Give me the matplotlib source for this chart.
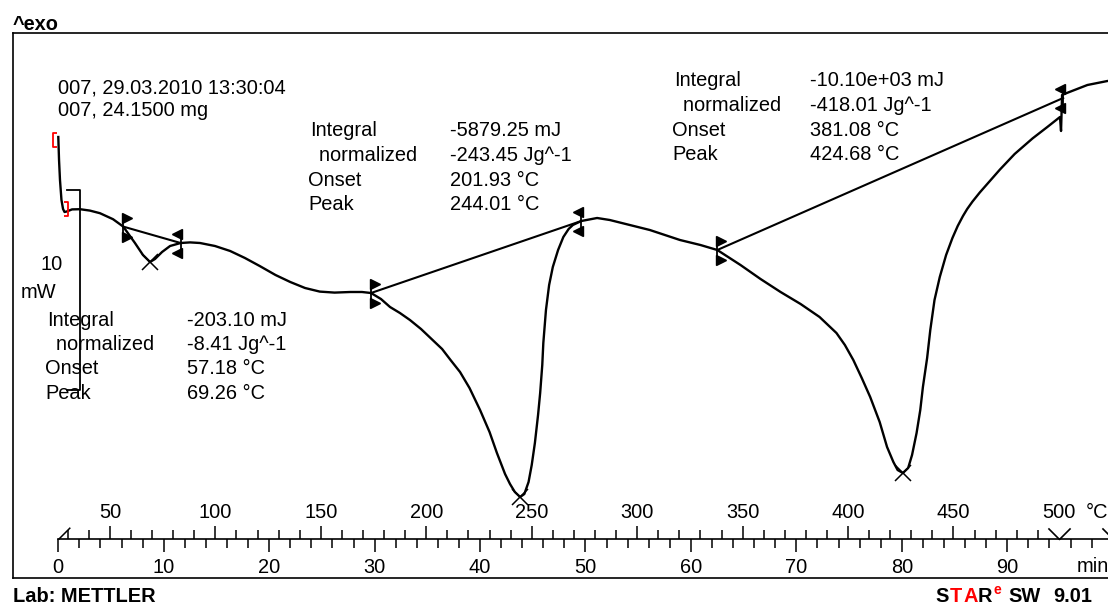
import matplotlib
matplotlib.use("Agg")
import matplotlib.pyplot as plt
import matplotlib.transforms as mtransforms
from matplotlib.path import Path
from matplotlib.ticker import FixedLocator

plt.rcParams["font.family"] = ["Liberation Sans", "DejaVu Sans"]

# DSC run 007 : time (min) vs heat flow (mW), ^exo up
time_min = [0.0, 0.07, 0.16, 0.30, 0.45, 0.59, 0.83, 1.3, 2.06, 3.0, 3.95, 5.19, 6.16,
            7.27, 8.03, 8.7, 9.17, 9.84, 10.6, 11.6,
            12.5, 13.44, 14.86, 16.3, 17.7, 19.1, 20.6, 22.0, 23.4, 24.8, 26.2, 27.7, 28.8, 29.66,
            30.6, 31.46, 32.4, 33.35, 34.4, 35.5, 36.4, 37.2, 38.1, 39.0, 40.0, 40.9, 41.6,
            42.37, 42.84, 43.3, 43.8,
            44.2, 44.6, 44.9, 45.2, 45.5, 45.7, 45.9, 46.0, 46.25, 46.55, 46.9, 47.4, 47.9,
            48.4, 48.8, 49.6,
            51.1, 52.3, 54.2, 56.1, 58.96, 60.9, 62.5,
            64.7, 66.6, 68.5, 70.4, 72.2, 73.8, 74.6, 75.4, 76.2, 77.0, 77.9, 78.6, 79.2,
            79.6, 80.1,
            80.6, 80.97, 81.4, 81.75, 82.0, 82.4, 82.7, 83.1, 83.6, 84.2, 84.8, 85.3, 85.8,
            86.2, 86.7, 87.4, 88.1, 88.7, 89.3, 90.7, 92.4, 93.8, 95.0,
            95.1, 95.2, 95.65, 97.6, 99.5, 100.5]
heat_flow = [5.65, 4.5, 3.5, 2.5, 2.05, 1.9, 1.93, 2.03, 2.04, 1.97, 1.84, 1.54, 1.17,
             0.35, -0.25, -0.6, -0.45, -0.1, 0.2, 0.35,
             0.38, 0.35, 0.2, -0.05, -0.4, -0.8, -1.25, -1.6, -1.9, -2.08, -2.13, -2.1, -2.1, -2.15,
             -2.45, -2.85, -3.15, -3.5, -3.95, -4.5, -4.95, -5.5, -6.1, -6.9, -8.0, -9.1, -10.15,
             -11.2, -11.7, -12.1, -12.35,
             -12.2, -11.6, -10.75, -9.65, -8.25, -7.15, -5.75, -4.65, -3.0, -1.75, -0.85, 0.0, 0.65,
             1.05, 1.25, 1.45,
             1.6, 1.5, 1.25, 1.0, 0.5, 0.25, 0.0,
             -0.75, -1.45, -2.1, -2.7, -3.35, -4.15, -4.75, -5.5, -6.4, -7.35, -8.6, -9.85, -10.6,
             -11.0, -11.15,
             -10.9, -10.25, -9.15, -8.0, -6.85, -5.4, -4.0, -2.5, -1.35, -0.25, 0.6, 1.2, 1.7,
             2.05, 2.42, 2.88, 3.3, 3.66, 4.02, 4.8, 5.58, 6.15, 6.65,
             5.95, 7.75, 7.85, 8.25, 8.45, 8.5]

# integration limits and peaks
lim_left_t = [6.16, 29.66, 62.5]
lim_left_y = [1.17, -2.15, 0.0]
lim_right_t = [11.6, 49.6, 95.3]
lim_right_y = [0.35, 1.45, 7.6]
peak_t = [8.7, 43.8, 80.1]
peak_y = [-0.6, -12.35, -11.15]

# evaluation range brackets (red)
range_t = [-0.36, 0.73]
range_y = [5.48, 2.03]

integral_txt = ["-203.10 mJ", "-5879.25 mJ", "-10.10e+03 mJ"]
normalized_txt = ["-8.41 Jg^-1", "-243.45 Jg^-1", "-418.01 Jg^-1"]
onset_txt = ["57.18 °C", "201.93 °C", "381.08 °C"]
peakT_txt = ["69.26 °C", "244.01 °C", "424.68 °C"]

# temperature program: T = T0 + rate * t
T0, rate = 25.5, 5.0
time_major = list(range(0, 91, 10))
time_minor = list(range(0, 100, 2))
temp_major = list(range(50, 451, 50))
temp_minor = list(range(30, 491, 10))
seg_end_min = [(500 - T0) / rate, 100.0]

# ---- layout (pixels of a 1108x608 image) ----
W, H = 1108, 608
FL, FT, FR, FB = 13, 33, 1120, 578
X0, PX_MIN = 58.3, 10.544
Y0, PX_MW = 250, 20.0
AXIS_PY = 539
FS = 14.4


def fx(x):
    return x / W


def fy(y):
    return 1 - y / H


fig = plt.figure(figsize=(W / 100, H / 100), dpi=100)
ax = fig.add_axes([fx(FL), fy(FB), fx(FR) - fx(FL), fy(FT) - fy(FB)])
ax.set_xlim((FL - X0) / PX_MIN, (FR - X0) / PX_MIN)
ax.set_ylim((Y0 - FB) / PX_MW, (Y0 - FT) / PX_MW)
ax.set_xticks([])
ax.set_yticks([])
for sp in ax.spines.values():
    sp.set_linewidth(1.2)

# curve and baselines
ax.plot(time_min, heat_flow, color="black", lw=1.7, solid_joinstyle="round")
for i in range(3):
    ax.plot([lim_left_t[i], lim_right_t[i]], [lim_left_y[i], lim_right_y[i]],
            color="black", lw=1.5)
ax.plot(peak_t, peak_y, "x", color="black", ms=11, mew=1.1)

# limit markers
def shifted(dx, dy):
    return mtransforms.offset_copy(ax.transData, fig, x=dx, y=dy, units="dots")

for t, y in zip(lim_left_t, lim_left_y):
    ax.plot([t], [y], marker="|", ms=18, mew=1.3, color="black")
    ax.plot([t], [y], marker=">", ms=6.5, color="black", ls="", transform=shifted(3.5, 9))
    ax.plot([t], [y], marker=">", ms=6.5, color="black", ls="", transform=shifted(3.5, -10))
for t, y in zip(lim_right_t, lim_right_y):
    ax.plot([t], [y], marker="|", ms=18, mew=1.3, color="black")
    ax.plot([t], [y], marker="<", ms=6.5, color="black", ls="", transform=shifted(-3.5, 9))
    ax.plot([t], [y], marker="<", ms=6.5, color="black", ls="", transform=shifted(-3.5, -10))

open_br = Path([(0.3, 1), (-0.3, 1), (-0.3, -1), (0.3, -1)])
close_br = Path([(-0.3, 1), (0.3, 1), (0.3, -1), (-0.3, -1)])
ax.plot(range_t[:1], range_y[:1], marker=open_br, ms=10, mfc="none", mec="red", mew=1.3)
ax.plot(range_t[1:], range_y[1:], marker=close_br, ms=10, mfc="none", mec="red", mew=1.3)

# scale bar 10 mW
bar_t = (80 - X0) / PX_MIN
bar_top = (Y0 - 190) / PX_MW
ax.plot([bar_t - 1.25, bar_t, bar_t, bar_t - 1.25], [bar_top, bar_top, bar_top - 10, bar_top - 10],
        color="black", lw=1.3)
fig.text(fx(40), fy(264), "10", fontsize=FS, va="center")
fig.text(fx(21), fy(292), "mW", fontsize=FS, va="center")

# time / temperature scales
axis_frac = (FB - AXIS_PY) / (FB - FT)
sec_t = ax.secondary_xaxis(axis_frac)
sec_t.xaxis.set_major_locator(FixedLocator(time_major))
sec_t.xaxis.set_minor_locator(FixedLocator(time_minor))
sec_t.tick_params(which="major", length=9.4, width=1.1, labelsize=FS, pad=4)
sec_t.tick_params(which="minor", length=6.5, width=1.1)
sec_t.spines["bottom"].set_bounds(0, 101)
sec_t.spines["bottom"].set_linewidth(1.2)

sec_T = ax.secondary_xaxis(axis_frac, functions=(lambda t: T0 + rate * t,
                                                  lambda T: (T - T0) / rate))
sec_T.set_alignment("top")
sec_T.spines["top"].set_visible(False)
sec_T.xaxis.set_major_locator(FixedLocator(temp_major))
sec_T.xaxis.set_minor_locator(FixedLocator(temp_minor))
sec_T.tick_params(which="major", length=9.4, width=1.1, labelsize=FS, pad=3)
sec_T.tick_params(which="minor", length=6.5, width=1.1)

axis_tr = mtransforms.blended_transform_factory(ax.transData, ax.transAxes)
vee = Path([(-1, 1), (0, 0), (1, 1)])
ax.plot(seg_end_min, [axis_frac] * 2, marker=vee, ms=16, mfc="none", mec="black",
        mew=1.2, ls="", transform=axis_tr, clip_on=False)
start_tick = Path([(0, 0), (1, 1)])
ax.plot([0], [axis_frac], marker=start_tick, ms=17, mfc="none", mec="black", mew=1.1,
        transform=axis_tr)
fig.text(fx(X0 + seg_end_min[0] * PX_MIN), fy(512), "500", fontsize=FS, ha="center", va="center")
fig.text(fx(1086), fy(512), "°C", fontsize=FS, va="center")
fig.text(fx(1077), fy(566), "min", fontsize=FS, va="center")

# header texts
fig.text(fx(13), fy(24), "^exo", fontsize=FS, fontweight="bold", va="center")
fig.text(fx(58), fy(88), "007, 29.03.2010 13:30:04", fontsize=FS, va="center")
fig.text(fx(58), fy(111), "007, 24.1500 mg", fontsize=FS, va="center")

# result tables
blocks = [(45, 187, 320), (308, 450, 131), (672, 810, 81)]
for i, (xl, xv, ytop) in enumerate(blocks):
    rows = [("Integral", integral_txt[i], 2), ("  normalized", normalized_txt[i], 0),
            ("Onset", onset_txt[i], 0), ("Peak", peakT_txt[i], 0)]
    for k, (lab, val, dx) in enumerate(rows):
        yy = ytop + k * 24.5
        fig.text(fx(xl + dx), fy(yy), lab, fontsize=FS, va="center")
        fig.text(fx(xv), fy(yy), val, fontsize=FS, va="center")

# footer
fig.text(fx(13), fy(597), "Lab: METTLER", fontsize=FS, fontweight="bold", va="center")
logo = [("S", 935, "black"), ("T", 950, "red"), ("A", 963, "red"), ("R", 978, "black")]
for ch, xp, col in logo:
    fig.text(fx(xp), fy(597), ch, fontsize=FS, fontweight="bold", color=col, va="center")
fig.text(fx(993), fy(590), "e", fontsize=10, fontweight="bold", color="red", va="center")
fig.text(fx(1008), fy(597), "SW", fontsize=FS, fontweight="bold", va="center")
fig.text(fx(1053), fy(597), "9.01", fontsize=FS, fontweight="bold", va="center")

fig.savefig("out.png", dpi=100)
